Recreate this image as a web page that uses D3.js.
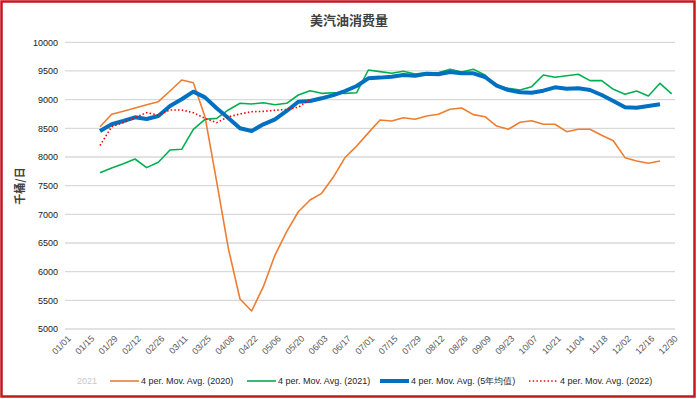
<!DOCTYPE html>
<html lang="zh">
<head>
  <meta charset="UTF-8">
  <title>美汽油消费量</title>
  <script src="https://d3js.org/d3.v7.min.js"></script>
  <style>
    body { margin: 0; background: #fff; }
    text { font-family: "Liberation Sans", Arial, sans-serif; }
    .cjk { font-family: "Noto Sans CJK SC", sans-serif; }
  </style>
</head>
<body>
  <svg id="chart" width="697" height="399"></svg>

  <script>
    // 数据：周度4周移动平均（千桶/日），首周为 01/22
    const firstWeek = "2020-01-22";
    const avg2020 = [8528, 8744, 8797, 8854, 8912, 8964, 9151, 9342, 9296, 8703,
      7569, 6407, 5523, 5314, 5738, 6290, 6697, 7045, 7250, 7366,
      7650, 7990, 8190, 8420, 8645, 8627, 8685, 8657, 8715, 8744,
      8831, 8854, 8738, 8703, 8540, 8483, 8605, 8633, 8570, 8570,
      8441, 8483, 8483, 8378, 8284, 7988, 7930, 7890, 7930];
    const avg2021 = [7726, 7808, 7883, 7965, 7814, 7907, 8122, 8134, 8483, 8657,
      8674, 8820, 8936, 8924, 8947, 8912, 8936, 9081, 9156, 9110,
      9120, 9110, 9121, 9517, 9488, 9459, 9494, 9447, 9470, 9470,
      9529, 9482, 9529, 9430, 9238, 9198, 9168, 9226, 9430, 9390,
      9418, 9442, 9331, 9331, 9180, 9093, 9151, 9064, 9285, 9099];
    const avg5yr = [8453, 8570, 8627, 8692, 8663, 8715, 8889, 9006, 9139, 9040,
      8850, 8680, 8500, 8453, 8570, 8657, 8802, 8964, 8976, 9023,
      9080, 9150, 9238, 9372, 9384, 9401, 9430, 9418, 9453, 9442,
      9482, 9459, 9459, 9395, 9243, 9168, 9128, 9121, 9156, 9215,
      9191, 9198, 9168, 9081, 8976, 8866, 8860, 8889, 8919];
    const avg2022 = [8200, 8529, 8599, 8686, 8773, 8733, 8820, 8820, 8773, 8674,
      8599, 8700, 8750, 8790, 8795, 8815, 8830, 8866, 9010];

    const yTicks = [5000, 5500, 6000, 6500, 7000, 7500, 8000, 8500, 9000, 9500, 10000];
    const series = [
      { name: "4 per. Mov. Avg. (2020)", values: avg2020, color: "#ed7d31", width: 1.6, dash: null },
      { name: "4 per. Mov. Avg. (2021)", values: avg2021, color: "#00b050", width: 1.6, dash: null },
      { name: "4 per. Mov. Avg. (5年均值)", values: avg5yr, color: "#0070c0", width: 4, dash: null },
      { name: "4 per. Mov. Avg. (2022)", values: avg2022, color: "#ff0000", width: 1.6, dash: "1.5,2.2" }
    ];

    const svg = d3.select("#chart");
    const parse = d3.timeParse("%Y-%m-%d");
    const start = parse("2020-01-01"), end = parse("2021-01-01");
    const week0 = parse(firstWeek);

    const x = d3.scaleTime().domain([start, end]).range([65, 675]);
    const y = d3.scaleLinear().domain([5000, 10000]).range([329, 42.3]);

    // 外框
    svg.append("rect")
      .attr("x", 1.5).attr("y", 1.5).attr("width", 693).attr("height", 395)
      .attr("fill", "#fff").attr("stroke", "#c8161d").attr("stroke-width", 2.5);

    // 标题
    svg.append("text").attr("class", "cjk")
      .attr("x", 349).attr("y", 25)
      .attr("text-anchor", "middle")
      .attr("font-size", 13).attr("font-weight", "bold").attr("fill", "#404040")
      .text("美汽油消费量");

    // 网格线
    svg.append("g").selectAll("line").data(yTicks).enter().append("line")
      .attr("x1", 65).attr("x2", 675)
      .attr("y1", d => y(d)).attr("y2", d => y(d))
      .attr("stroke", "#d9d9d9").attr("stroke-width", 1.3);

    // Y轴
    const yAxis = svg.append("g")
      .attr("transform", "translate(58,0)")
      .call(d3.axisLeft(y).tickValues(yTicks).tickSize(0).tickPadding(0).tickFormat(d3.format("d")));
    yAxis.select(".domain").remove();
    yAxis.selectAll("text").attr("font-size", 9).attr("fill", "#1a1a1a")
      .attr("font-family", "'Liberation Sans', Arial, sans-serif");

    // Y轴标题
    svg.append("text").attr("class", "cjk")
      .attr("transform", "translate(24,186) rotate(-90)")
      .attr("text-anchor", "middle")
      .attr("font-size", 11).attr("font-weight", "bold").attr("fill", "#404040")
      .text("千桶/日");

    // X轴
    const xTicks = d3.timeDay.range(start, end, 14);
    const xAxis = svg.append("g")
      .attr("transform", "translate(0,329)")
      .call(d3.axisBottom(x).tickValues(xTicks).tickSize(0).tickFormat(d3.timeFormat("%m/%d")));
    xAxis.select(".domain").remove();
    xAxis.selectAll("text")
      .attr("font-size", 9).attr("fill", "#595959")
      .attr("font-family", "'Liberation Sans', Arial, sans-serif")
      .attr("text-anchor", "end")
      .attr("dy", 0)
      .attr("transform", "translate(4,8) rotate(-45)");

    // 折线
    const line = d3.line()
      .x((d, i) => x(d3.timeDay.offset(week0, 7 * i)))
      .y(d => y(d));

    series.forEach(s => {
      svg.append("path")
        .datum(s.values)
        .attr("d", line)
        .attr("fill", "none")
        .attr("stroke", s.color)
        .attr("stroke-width", s.width)
        .attr("stroke-linejoin", "round")
        .attr("stroke-dasharray", s.dash);
    });

    // 图例
    const legendY = 381;
    svg.append("text")
      .attr("x", 77).attr("y", legendY + 3)
      .attr("font-size", 9).attr("fill", "#c8c8c8")
      .text("2021");

    const legendX = [110, 247, 380, 529];
    series.forEach((s, i) => {
      const g = svg.append("g").attr("transform", `translate(${legendX[i]},${legendY})`);
      g.append("line")
        .attr("x1", 0).attr("x2", 29).attr("y1", 0).attr("y2", 0)
        .attr("stroke", s.color).attr("stroke-width", s.width)
        .attr("stroke-dasharray", s.dash);
      g.append("text")
        .attr("x", 31).attr("y", 3)
        .attr("font-size", 9).attr("fill", "#262626")
        .text(s.name);
    });
  </script>
</body>
</html>
